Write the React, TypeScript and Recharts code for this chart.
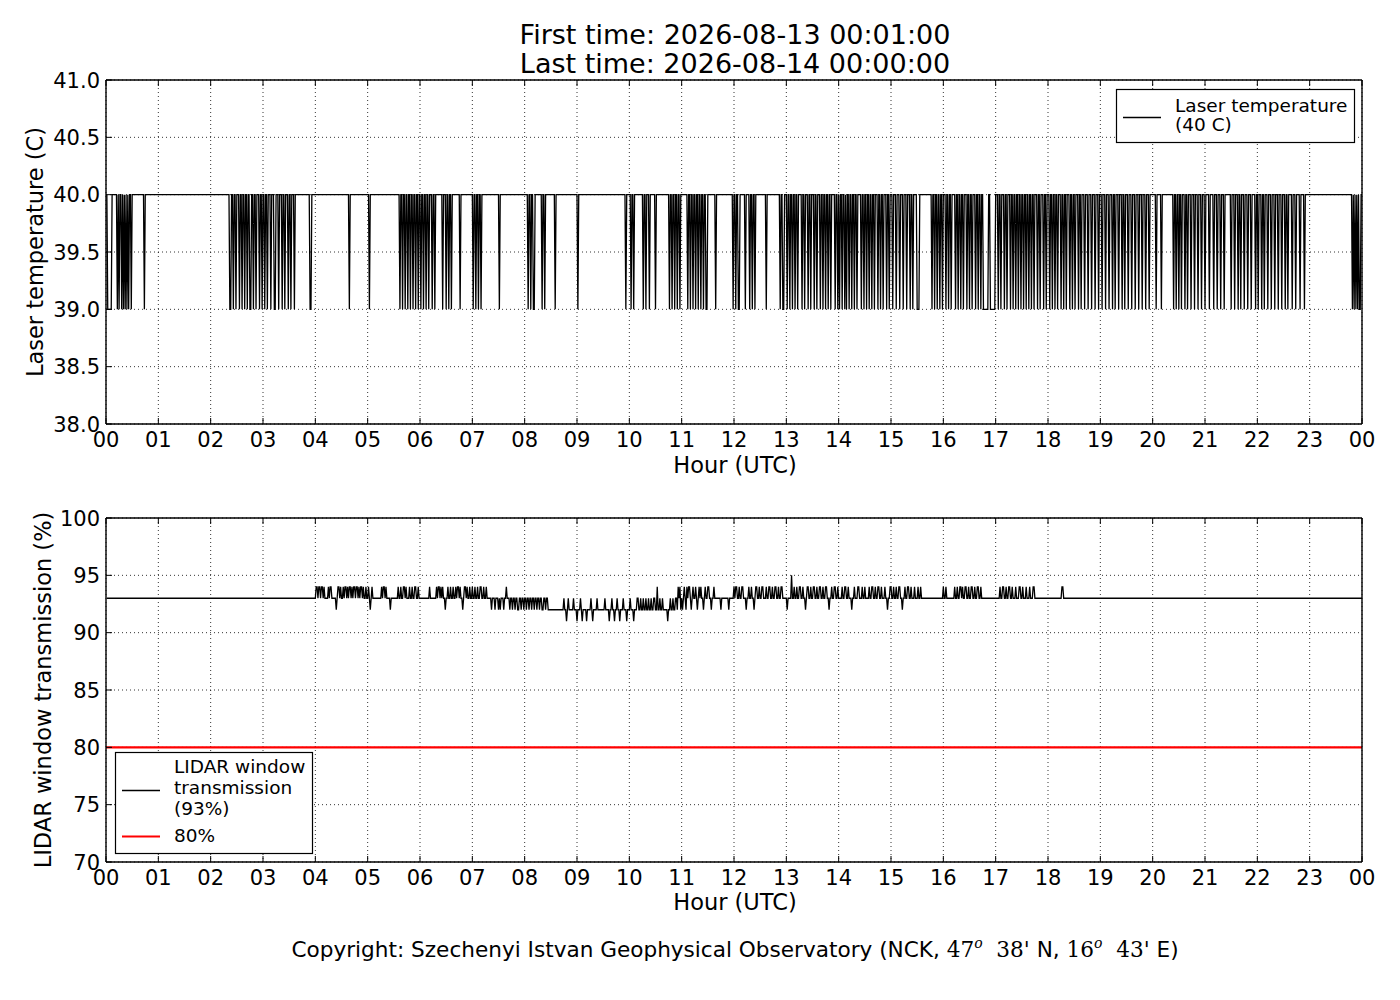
import React from 'react';
import { LineChart, Line, XAxis, YAxis, CartesianGrid, ReferenceLine } from 'recharts';

const FONT = '"DejaVu Sans", sans-serif';
const SERIF = '"DejaVu Serif", "Liberation Serif", serif';

// x-axis ticks in minutes of the day
const hourTicks = [0, 60, 120, 180, 240, 300, 360, 420, 480, 540, 600, 660, 720, 780, 840, 900, 960, 1020, 1080, 1140, 1200, 1260, 1320, 1380, 1440];
const tempTicks = [38, 38.5, 39, 39.5, 40, 40.5, 41];
const transTicks = [70, 75, 80, 85, 90, 95, 100];

// Laser temperature: minute ranges [first minute, first minute back] at 39 C; otherwise 40 C
const laserLowIntervals: [number, number][] = [
  [2, 7], [13, 14], [15, 16], [18, 19], [20, 21], [22, 23], [24, 25], [26, 27], [29, 30], [44, 45],
  [142, 144], [146, 147], [149, 150], [153, 154], [156, 157], [159, 160], [162, 163], [165, 167], [169, 170],
  [172, 173], [176, 177], [179, 180], [182, 183], [185, 186], [189, 190],
  [193, 195], [198, 199], [202, 203], [205, 206], [209, 210], [212, 213], [216, 217], [234, 236], [279, 280], [302, 303],
  [337, 338], [340, 341], [343, 344], [346, 347], [349, 350], [352, 353], [355, 356], [358, 359], [361, 362],
  [364, 365], [367, 368], [370, 371], [374, 375], [377, 378],
  [386, 387], [390, 391], [393, 394], [396, 397], [406, 407], [421, 422], [424, 425], [427, 428], [430, 431],
  [451, 452], [484, 485], [487, 488], [490, 492], [500, 501], [503, 504], [515, 516], [541, 542],
  [596, 597], [602, 603], [605, 606], [616, 617], [619, 620], [623, 624], [630, 631],
  [646, 647], [649, 650], [652, 653], [655, 656], [658, 659], [667, 668], [670, 671], [673, 674], [676, 677],
  [679, 680], [682, 683], [685, 686], [688, 690], [699, 700],
  [719, 720], [722, 723], [725, 727], [733, 734], [738, 739], [741, 742], [744, 745], [757, 758],
  [773, 774], [776, 778], [781, 782], [784, 785], [787, 788], [790, 791], [793, 794],
  [798, 799], [801, 802], [805, 806], [808, 809], [812, 813], [815, 816],
  [819, 820], [822, 823], [825, 826], [828, 829], [831, 832],
  [836, 837], [839, 840], [841, 842], [844, 845], [847, 848], [849, 850], [852, 853], [855, 856], [858, 859],
  [861, 862], [866, 867], [869, 870], [872, 873], [875, 876], [878, 879], [881, 882], [885, 886], [888, 889],
  [891, 892], [895, 896], [898, 899], [902, 903], [906, 907], [910, 911], [914, 915], [918, 919], [922, 923],
  [925, 926], [930, 933],
  [947, 948], [950, 951], [953, 954], [956, 957], [959, 960], [963, 964], [966, 967], [969, 970], [974, 975],
  [977, 978], [980, 981], [983, 984], [987, 988], [990, 991], [993, 994], [997, 998], [1000, 1001], [1003, 1004],
  [1006, 1012], [1014, 1020], [1023, 1024], [1026, 1027], [1030, 1031], [1033, 1034],
  [1037, 1038], [1040, 1041], [1043, 1044], [1046, 1047], [1049, 1050], [1052, 1053], [1055, 1056], [1058, 1059],
  [1061, 1062], [1064, 1065], [1068, 1069], [1071, 1072], [1075, 1076], [1078, 1079],
  [1082, 1083], [1085, 1086], [1088, 1089], [1091, 1092], [1095, 1096], [1098, 1099], [1101, 1102], [1105, 1106],
  [1108, 1109], [1111, 1112], [1115, 1116], [1118, 1119], [1122, 1123], [1126, 1127], [1130, 1131],
  [1134, 1135], [1138, 1139], [1142, 1143], [1146, 1147], [1150, 1151], [1154, 1155], [1157, 1158],
  [1161, 1162], [1165, 1166], [1168, 1169], [1172, 1173], [1176, 1177], [1180, 1181], [1184, 1185], [1188, 1189],
  [1192, 1193], [1196, 1197], [1204, 1205], [1210, 1211],
  [1224, 1225], [1227, 1228], [1230, 1231], [1233, 1234], [1237, 1238], [1240, 1241], [1244, 1245], [1248, 1249],
  [1252, 1253], [1256, 1257], [1260, 1261], [1265, 1266], [1270, 1271], [1274, 1275], [1278, 1279], [1282, 1283],
  [1290, 1291], [1294, 1295], [1298, 1299], [1301, 1302], [1305, 1306], [1309, 1310], [1313, 1314], [1318, 1319], [1321, 1322],
  [1325, 1326], [1328, 1329], [1332, 1333], [1336, 1337], [1340, 1341], [1344, 1345], [1348, 1349], [1352, 1353],
  [1355, 1356], [1360, 1361], [1364, 1365], [1369, 1370], [1374, 1375],
  [1429, 1430], [1431, 1432], [1433, 1434], [1435, 1436], [1437, 1439],
];
const laserHigh = 40;
const laserLow = 39;

// LIDAR window transmission: change points [minute, value held from that minute]
const transmissionChanges: [number, number][] = [
  [1, 93],
  [241, 94], [243, 93], [244, 94], [246, 93], [247, 94], [249, 93], [250, 94], [251, 93], [255, 94], [256, 93],
  [257, 94], [259, 93], [264, 92], [265, 93], [266, 94], [268, 93], [269, 94], [270, 93],
  [272, 94], [273, 93], [274, 94], [276, 93], [277, 94], [278, 93], [279, 94], [281, 93], [282, 94], [283, 93],
  [284, 94], [286, 93], [287, 94], [289, 93], [290, 94], [291, 93], [292, 94], [294, 93], [295, 94], [296, 93],
  [298, 94], [299, 93], [301, 94], [302, 93], [303, 92], [304, 93], [305, 94], [306, 93],
  [316, 94], [317, 93], [318, 94], [320, 93], [321, 94], [322, 93], [326, 92], [327, 93],
  [335, 94], [336, 93], [338, 94], [339, 93], [341, 94], [343, 93], [344, 94], [345, 93], [348, 94], [349, 93],
  [351, 94], [352, 93], [354, 94], [356, 93], [358, 94], [359, 93], [371, 94], [372, 93],
  [379, 94], [380, 93], [381, 94], [383, 93], [384, 94], [385, 93], [386, 94], [387, 93], [389, 92], [390, 93],
  [392, 94], [393, 93], [395, 94], [396, 93], [398, 94], [399, 93], [401, 94], [402, 93], [403, 94], [405, 93],
  [406, 94], [407, 93], [409, 92], [410, 93], [411, 94], [413, 93], [414, 94], [415, 93], [417, 94], [418, 93],
  [420, 94], [421, 93], [423, 94], [424, 93], [426, 94], [427, 93], [429, 94], [431, 93], [433, 94], [434, 93],
  [436, 94], [437, 93], [442, 92], [443, 93],
  [446, 92], [447, 93], [450, 92], [451, 93], [452, 92], [453, 93], [456, 92], [457, 93], [459, 94], [460, 93],
  [463, 92], [464, 93], [466, 92], [467, 93], [469, 92], [470, 93], [472, 92], [474, 93], [476, 92], [477, 93],
  [479, 92], [480, 93], [482, 92], [483, 93], [485, 92], [486, 93], [488, 92], [489, 93], [491, 92], [492, 93],
  [494, 92], [495, 93], [497, 92], [498, 93], [500, 92], [502, 93], [504, 92], [505, 93], [507, 92],
  [525, 93], [526, 92], [528, 91], [529, 92], [530, 93], [531, 92], [536, 93], [537, 92], [540, 91], [541, 92],
  [544, 93], [545, 92], [546, 91], [547, 92], [551, 91], [552, 92], [556, 93], [557, 92], [558, 91], [559, 92],
  [563, 93], [564, 92], [572, 93], [573, 92], [577, 91], [578, 92], [580, 93], [581, 92], [583, 91], [584, 92],
  [586, 93], [587, 92], [589, 91], [590, 92], [593, 93], [594, 92], [597, 91], [598, 92], [601, 93], [602, 92],
  [605, 91], [606, 92], [609, 93], [611, 92], [613, 93], [614, 92], [616, 93], [617, 92], [619, 93], [620, 92],
  [622, 93], [623, 92], [625, 93], [626, 92], [628, 93], [630, 92], [632, 94], [633, 92], [635, 93], [636, 92],
  [638, 93], [639, 92], [644, 91], [645, 92], [647, 93], [648, 92], [650, 93], [651, 92], [653, 93], [655, 92],
  [656, 94], [657, 93], [658, 94], [659, 92], [660, 93],
  [661, 92], [662, 93], [663, 94], [664, 93], [665, 92], [666, 94], [667, 93], [668, 94], [670, 93], [671, 92],
  [672, 93], [673, 94], [674, 93], [676, 94], [677, 93], [678, 92], [679, 93], [680, 94], [681, 93], [682, 94],
  [683, 93], [685, 92], [686, 93], [687, 94], [688, 93], [690, 94], [692, 93], [694, 92], [695, 93], [697, 94],
  [698, 93], [705, 92], [706, 93], [714, 92], [715, 93],
  [720, 94], [721, 93], [722, 94], [724, 93], [726, 94], [727, 93], [729, 94], [731, 93], [734, 92], [735, 93],
  [737, 94], [738, 93], [740, 94], [741, 93], [743, 92], [744, 93], [745, 94], [747, 93], [749, 94], [750, 93],
  [752, 94], [754, 93], [757, 94], [758, 93], [760, 94], [762, 93], [764, 94], [765, 93], [767, 94], [769, 93],
  [771, 94], [772, 93], [774, 94], [776, 93], [781, 92], [782, 93], [786, 95], [787, 93],
  [789, 94], [790, 93], [792, 94], [793, 93], [795, 94], [797, 93], [799, 94], [800, 93], [802, 92], [803, 93],
  [804, 94], [806, 93], [808, 94], [809, 93], [811, 94], [813, 93], [815, 94], [816, 93], [818, 94], [820, 93],
  [822, 94], [823, 93], [825, 94], [827, 93], [829, 92], [830, 93], [832, 94], [833, 93], [835, 94], [837, 93],
  [839, 94], [840, 93], [844, 94], [845, 93], [847, 94], [849, 93], [851, 94], [852, 93], [855, 92], [856, 93],
  [858, 94], [859, 93], [862, 94], [864, 93], [867, 94], [868, 93], [870, 94], [871, 93],
  [875, 94], [876, 93], [878, 94], [880, 93], [882, 94], [883, 93], [885, 94], [887, 93], [889, 94], [890, 93],
  [893, 94], [894, 93], [896, 92], [897, 93], [899, 94], [901, 93], [903, 94], [904, 93], [906, 94], [907, 93],
  [909, 94], [911, 93], [913, 92], [914, 93], [916, 94], [917, 93], [919, 94], [921, 93], [923, 94], [924, 93],
  [927, 94], [928, 93], [931, 94], [932, 93], [934, 94], [935, 93],
  [960, 94], [961, 93], [963, 94], [964, 93], [973, 94], [974, 93], [976, 94], [977, 93],
  [979, 94], [981, 93], [982, 94], [983, 93], [985, 94], [987, 93], [989, 94], [990, 93], [992, 94], [994, 93],
  [996, 94], [997, 93], [999, 94], [1001, 93], [1003, 94], [1004, 93],
  [1025, 94], [1026, 93], [1028, 94], [1030, 93], [1032, 94], [1033, 93], [1035, 94], [1037, 93], [1039, 94],
  [1040, 93], [1043, 94], [1044, 93], [1047, 94], [1049, 93], [1051, 94], [1052, 93], [1055, 94], [1056, 93],
  [1059, 94], [1060, 93], [1063, 94], [1065, 93], [1096, 94], [1098, 93],
  [1440, 93],
];
const thresholdValue = 80;

// Build per-minute sampled series (straight segments between consecutive samples)
const laserData: { t: number; v: number }[] = [{ t: 1, v: laserHigh }];
const pushPt = (arr: { t: number; v: number }[], t: number, v: number) => {
  const last = arr[arr.length - 1];
  if (last && last.t === t) {
    last.v = v;
    return;
  }
  arr.push({ t, v });
};
laserLowIntervals.forEach(([s, e]) => {
  pushPt(laserData, s - 1, laserHigh);
  pushPt(laserData, s, laserLow);
  if (e - 1 > s) pushPt(laserData, e - 1, laserLow);
  pushPt(laserData, e, laserHigh);
});
pushPt(laserData, 1440, laserHigh);

const transData: { t: number; v: number }[] = [];
transmissionChanges.forEach(([t, v], i) => {
  if (i > 0) {
    const [pt, pv] = transmissionChanges[i - 1];
    if (t - 1 > pt) pushPt(transData, t - 1, pv);
  }
  pushPt(transData, t, v);
});

const fmtHour = (v: number) => String(Math.round(v / 60) % 24).padStart(2, '0');

const TICK_FS = 21;

const BottomTick = (props: any) => {
  const { x, y, payload } = props;
  return (
    <g>
      <line x1={x} x2={x} y1={y} y2={y - 6} stroke="#000" strokeWidth={1} />
      <text x={x} y={y + 23} textAnchor="middle" fontSize={TICK_FS} fontFamily={FONT} fill="#000">
        {fmtHour(payload.value)}
      </text>
    </g>
  );
};
const TopTick = (props: any) => {
  const { x, y } = props;
  return <line x1={x} x2={x} y1={y} y2={y + 6} stroke="#000" strokeWidth={1} />;
};
const makeLeftTick = (fmt: (v: number) => string) => (props: any) => {
  const { x, y, payload } = props;
  return (
    <g>
      <line x1={x} x2={x + 6} y1={y} y2={y} stroke="#000" strokeWidth={1} />
      <text x={x - 6} y={y + 7.5} textAnchor="end" fontSize={TICK_FS} fontFamily={FONT} fill="#000">
        {fmt(payload.value)}
      </text>
    </g>
  );
};
const RightTick = (props: any) => {
  const { x, y } = props;
  return <line x1={x} x2={x - 6} y1={y} y2={y} stroke="#000" strokeWidth={1} />;
};

const TempTick = makeLeftTick((v) => v.toFixed(1));
const TransTick = makeLeftTick((v) => String(v));

const CHART_W = 1400;
const CHART_H = 470;
const margin = { top: 79, right: 37, bottom: 16, left: 46 };
const axisStroke = { stroke: '#000', strokeWidth: 1.4 };
const DATA_LW = 1.3;

export default function App() {
  return (
    <div style={{ position: 'absolute', left: 0, top: 0, width: 1400, height: 1000, background: '#fff' }}>
      <div style={{ position: 'absolute', left: 0, top: 0 }}>
        <LineChart width={CHART_W} height={CHART_H} data={laserData} margin={margin}>
          <CartesianGrid stroke="#000" strokeWidth={0.8} strokeDasharray="1 3" />
          <XAxis dataKey="t" type="number" domain={[0, 1440]} ticks={hourTicks} interval={0} allowDataOverflow
            height={30} tickSize={0} tickMargin={0} tickLine={false} axisLine={axisStroke} tick={<BottomTick />} />
          <XAxis xAxisId="top" orientation="top" dataKey="t" type="number" domain={[0, 1440]} ticks={hourTicks} interval={0}
            height={1} tickSize={0} tickMargin={0} tickLine={false} axisLine={axisStroke} tick={<TopTick />} />
          <YAxis type="number" domain={[38, 41]} ticks={tempTicks} interval={0} allowDataOverflow
            width={60} tickSize={0} tickMargin={0} tickLine={false} axisLine={axisStroke} tick={<TempTick />} />
          <YAxis yAxisId="right" orientation="right" type="number" domain={[38, 41]} ticks={tempTicks} interval={0}
            width={1} tickSize={0} tickMargin={0} tickLine={false} axisLine={axisStroke} tick={<RightTick />} />
          <Line type="linear" dataKey="v" stroke="#000" strokeWidth={DATA_LW} dot={false} isAnimationActive={false} />
        </LineChart>
      </div>
      <div style={{ position: 'absolute', left: 0, top: 438 }}>
        <LineChart width={CHART_W} height={CHART_H} data={transData} margin={margin}>
          <CartesianGrid stroke="#000" strokeWidth={0.8} strokeDasharray="1 3" />
          <XAxis dataKey="t" type="number" domain={[0, 1440]} ticks={hourTicks} interval={0} allowDataOverflow
            height={30} tickSize={0} tickMargin={0} tickLine={false} axisLine={axisStroke} tick={<BottomTick />} />
          <XAxis xAxisId="top" orientation="top" dataKey="t" type="number" domain={[0, 1440]} ticks={hourTicks} interval={0}
            height={1} tickSize={0} tickMargin={0} tickLine={false} axisLine={axisStroke} tick={<TopTick />} />
          <YAxis type="number" domain={[70, 100]} ticks={transTicks} interval={0} allowDataOverflow
            width={60} tickSize={0} tickMargin={0} tickLine={false} axisLine={axisStroke} tick={<TransTick />} />
          <YAxis yAxisId="right" orientation="right" type="number" domain={[70, 100]} ticks={transTicks} interval={0}
            width={1} tickSize={0} tickMargin={0} tickLine={false} axisLine={axisStroke} tick={<RightTick />} />
          <ReferenceLine y={thresholdValue} stroke="#ff0000" strokeWidth={2.2} />
          <Line type="linear" dataKey="v" stroke="#000" strokeWidth={DATA_LW} dot={false} isAnimationActive={false} />
        </LineChart>
      </div>
      <svg width={1400} height={1000} style={{ position: 'absolute', left: 0, top: 0, pointerEvents: 'none' }}>
        <g fontFamily={FONT} fill="#000">
          <text x={735} y={44} textAnchor="middle" fontSize={27}>First time: 2026-08-13 00:01:00</text>
          <text x={735} y={73} textAnchor="middle" fontSize={27}>Last time: 2026-08-14 00:00:00</text>
          <text x={735} y={473} textAnchor="middle" fontSize={22.5}>Hour (UTC)</text>
          <text x={735} y={910} textAnchor="middle" fontSize={22.5}>Hour (UTC)</text>
          <text transform="translate(43,252) rotate(-90)" textAnchor="middle" fontSize={22.5}>Laser temperature (C)</text>
          <text transform="translate(51,690) rotate(-90)" textAnchor="middle" fontSize={22.5}>LIDAR window transmission (%)</text>

          <rect x={1116.5} y={89.5} width={238} height={53} fill="#fff" stroke="#000" strokeWidth={1.2} />
          <line x1={1123} x2={1161} y1={117.5} y2={117.5} stroke="#000" strokeWidth={DATA_LW} />
          <text x={1175} y={111.5} fontSize={18.5}>Laser temperature</text>
          <text x={1175} y={131} fontSize={18.5}>(40 C)</text>

          <rect x={115.5} y={752.5} width={197} height={101} fill="#fff" stroke="#000" strokeWidth={1.2} />
          <line x1={122} x2={160} y1={790.5} y2={790.5} stroke="#000" strokeWidth={DATA_LW} />
          <text x={174} y={773} fontSize={18.5}>LIDAR window</text>
          <text x={174} y={794} fontSize={18.5}>transmission</text>
          <text x={174} y={815} fontSize={18.5}>(93%)</text>
          <line x1={122} x2={160} y1={836.5} y2={836.5} stroke="#ff0000" strokeWidth={2.2} />
          <text x={174} y={842} fontSize={18.5}>80%</text>

          <text x={735} y={957} textAnchor="middle" fontSize={21.6}>
            <tspan>Copyright: Szechenyi Istvan Geophysical Observatory (NCK, </tspan>
            <tspan fontFamily={SERIF}>47</tspan>
            <tspan fontFamily={SERIF} fontStyle="italic" fontSize={14} dy={-9}>o</tspan>
            <tspan fontFamily={SERIF} dy={9}>{'\u00a0\u00a038\''}</tspan>
            <tspan>{' N, '}</tspan>
            <tspan fontFamily={SERIF}>16</tspan>
            <tspan fontFamily={SERIF} fontStyle="italic" fontSize={14} dy={-9}>o</tspan>
            <tspan fontFamily={SERIF} dy={9}>{'\u00a0\u00a043\''}</tspan>
            <tspan>{' E)'}</tspan>
          </text>
        </g>
      </svg>
    </div>
  );
}
